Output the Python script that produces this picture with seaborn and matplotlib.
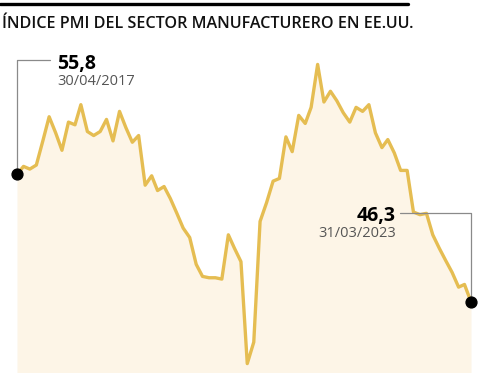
import pandas as pd
import numpy as np
import matplotlib
matplotlib.use("Agg")
import matplotlib.pyplot as plt
from matplotlib.lines import Line2D
from matplotlib.transforms import IdentityTransform
import seaborn as sns

# datos (PMI manufacturero EE.UU., mensual)
meses = pd.date_range("2017-04-30", "2023-03-31", freq="ME")
pmi = [55.8, 56.4, 56.2, 56.5, 58.3, 60.1, 58.9, 57.6, 59.7, 59.5, 61.0, 59.0,
       58.7, 59.0, 59.9, 58.3, 60.5, 59.3, 58.2, 58.7, 55.0, 55.7, 54.6, 54.9,
       54.0, 52.9, 51.8, 51.1, 49.1, 48.2, 48.1, 48.1, 48.0, 51.3, 50.3, 49.3,
       41.7, 43.3, 52.3, 53.7, 55.3, 55.5, 58.6, 57.5, 60.2, 59.6, 60.8, 64.0,
       61.2, 62.0, 61.3, 60.4, 59.7, 60.8, 60.5, 61.0, 58.9, 57.8, 58.4, 57.4,
       56.1, 56.1, 53.0, 52.8, 52.9, 51.3, 50.3, 49.4, 48.5, 47.4, 47.6, 46.3]
titulo = "ÍNDICE PMI DEL SECTOR MANUFACTURERO EN EE.UU."
etiqueta_ini = ("55,8", "30/04/2017")
etiqueta_fin = ("46,3", "31/03/2023")

df = pd.DataFrame({"fecha": meses, "pmi": pmi})

sns.set_style("white")
plt.rcParams["font.family"] = ["Open Sans", "DejaVu Sans"]

W, H = 480, 373
fig = plt.figure(figsize=(W / 100, H / 100), dpi=100)
ax = fig.add_axes([17 / W, 0, (471 - 17) / W, 1 - 60 / H])

linea = "#E5BD52"
relleno = "#FDF5E7"
y_min, y_max = 41.0, 64.33

ax.fill_between(df["fecha"], df["pmi"], y_min, color=relleno, lw=0)
sns.lineplot(data=df, x="fecha", y="pmi", ax=ax, color=linea, lw=2.4)
ax.set_xlim(df["fecha"].iloc[0], df["fecha"].iloc[-1])
ax.set_ylim(y_min, y_max)
ax.axis("off")

fig.canvas.draw()
ext = df.iloc[[0, -1]]
p0 = ax.transData.transform((matplotlib.dates.date2num(ext["fecha"].iloc[0]), ext["pmi"].iloc[0]))
p1 = ax.transData.transform((matplotlib.dates.date2num(ext["fecha"].iloc[-1]), ext["pmi"].iloc[-1]))

gris = "#8a8a8a"
idt = IdentityTransform()
fig.add_artist(Line2D([p0[0], p0[0], 50], [p0[1], H - 60, H - 60], color=gris, lw=0.9, transform=idt, zorder=1))
fig.add_artist(Line2D([400, p1[0], p1[0]], [H - 213, H - 213, p1[1]], color=gris, lw=0.9, transform=idt, zorder=1))

# puntos extremos, por encima de los conectores
fig.add_artist(Line2D([p0[0], p1[0]], [p0[1], p1[1]], ls="none", marker="o", color="black",
                      mec="black", ms=7.8, transform=idt, zorder=3))

# textos de las etiquetas
fig.text(57 / W, (H - 69) / H, etiqueta_ini[0], fontsize=14, fontweight="bold", color="black", va="baseline")
fig.text(57 / W, (H - 85) / H, etiqueta_ini[1], fontsize=10.5, color="#555555", va="baseline")
fig.text(396 / W, (H - 221) / H, etiqueta_fin[0], fontsize=14, fontweight="bold", color="black", va="baseline", ha="right")
fig.text(396 / W, (H - 237) / H, etiqueta_fin[1], fontsize=10.5, color="#555555", va="baseline", ha="right")

# título y filete superior
t = fig.text(2 / W, (H - 28) / H, titulo, fontsize=12, fontweight="semibold", color="#111111", va="baseline")
r = fig.canvas.get_renderer()
ancho = t.get_window_extent(r).width
t.set_fontsize(12 * 414 / ancho)
fig.add_artist(Line2D([0, 408], [H - 3.5, H - 3.5], color="black", lw=2.4, transform=idt))

fig.savefig("out.png", dpi=100)
